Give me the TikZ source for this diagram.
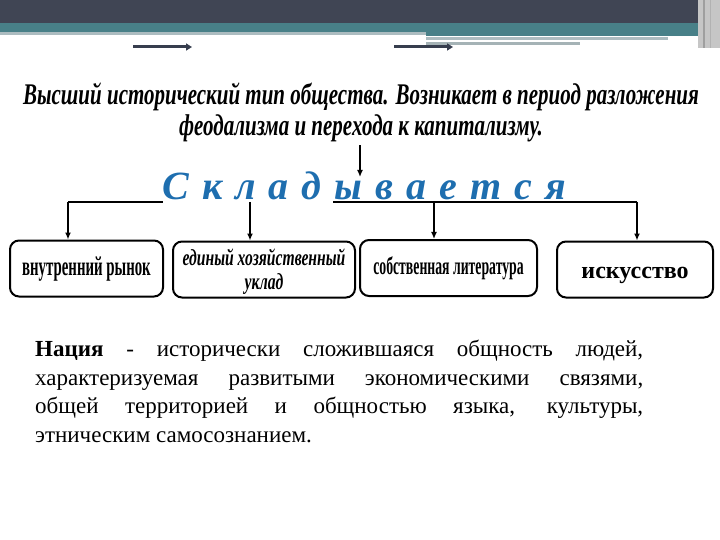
\documentclass[tikz,border=0pt]{standalone}
\usepackage{fontspec}
\setmainfont{Liberation Serif}
\newfontfamily\narrowfont[FakeStretch=0.7]{Liberation Serif}
\newfontfamily\tightfont[FakeStretch=0.55]{Liberation Serif}
\newfontfamily\squeezefont[FakeStretch=0.68]{Liberation Serif}
\usetikzlibrary{positioning,calc,arrows.meta}
\definecolor{banddark}{RGB}{64,69,84}
\definecolor{bandteal}{RGB}{72,128,136}
\definecolor{bandlight}{RGB}{172,188,192}
\definecolor{arrowdark}{RGB}{55,62,78}
\definecolor{titleblue}{RGB}{30,110,175}

\begin{document}
\begin{tikzpicture}[x=1pt,y=-1pt,
	% стили блоков и стрелок
	box/.style={
		draw=black,
		line width=2pt,
		rounded corners=9pt,
		minimum height=56pt,
		inner sep=2pt
	},
	arr/.style={line width=1.4pt, -{Latex[length=7pt,width=6pt]}},
	bus/.style={line width=1.4pt},
	deco/.style={draw=arrowdark, line width=3pt, -{Triangle[length=6pt,width=7pt]}},
	headtext/.style={align=center, font=\narrowfont\bfseries\itshape\fontsize{30}{31}\selectfont},
	boxtext/.style={font=\tightfont\bfseries\fontsize{27}{28}\selectfont},
	deftext/.style={text width=608pt, align=justify, inner sep=0pt, font=\fontsize{23}{28.5}\selectfont}
	]
	\useasboundingbox (0,0) rectangle (720,540);
	
	% Полосы заголовка слайда
	\fill[banddark] (0,0) rectangle (720,23);
	\fill[bandteal] (0,23) rectangle (700,32);
	\fill[bandteal] (426,32) rectangle (700,36);
	\fill[bandlight] (0,32) rectangle (426,35);
	\fill[bandlight] (426,37.5) rectangle (668,40);
	\fill[bandlight!85!gray] (426,42) rectangle (580,45);
	\fill[gray!45] (698,0) rectangle (720,48);
	\draw[gray!75, line width=1.5pt] (704,0) -- (704,48);
	\draw[gray!60, line width=1pt] (710,0) -- (710,48);
	
	% Две стрелки под полосами
	\coordinate (a1s) at (133,47);
	\coordinate (a1e) at (192,47);
	\coordinate (a2s) at (394,47);
	\coordinate (a2e) at (453,47);
	\draw[deco] (a1s) -- (a1e);
	\draw[deco] (a2s) -- (a2e);
	
	% Определение сверху
	\node[headtext] (title) at (361,112) {Высший исторический тип общества. Возникает в период разложения\\феодализма и перехода к капитализму.};
	
	% Складывается
	\node[text=titleblue, font=\bfseries\itshape\fontsize{40}{42}\selectfont] (skl) at (364,186) {\spaceskip=13pt С к л а д ы в а е т с я};
	\coordinate (drop) at (360,177);
	\draw[arr] (title.south -| drop) -- (drop);
	
	% Шина с отводами (часть закрыта надписью)
	\coordinate (j1) at (68,202);
	\coordinate (j2) at (250,202);
	\coordinate (j3) at (434,202);
	\coordinate (j4) at (637,202);
	\coordinate (g1) at (163,202);
	\coordinate (g2) at (333,202);
	\draw[bus] (j1) -- (g1);
	\draw[bus] (g2) -- (j4);
	
	% Четыре блока
	\node[box, boxtext, minimum width=153pt, text height=19pt, text depth=5pt] (b1) at (86.5,268.5) {внутренний рынок};
	\node[box, minimum width=182pt, align=center, text height=45pt, text depth=6pt, font=\squeezefont\bfseries\itshape\fontsize{23}{24}\selectfont] (b2) at (264,269.5) {единый хозяйственный\\уклад};
	\node[box, boxtext, minimum width=177pt, font=\tightfont\bfseries\fontsize{25}{28}\selectfont] (b3) at (448.5,268) {собственная литература};
	\node[box, minimum width=156pt, text height=18pt, text depth=0pt, font=\bfseries\fontsize{24}{26}\selectfont] (b4) at (635,269.5) {искусство};
	
	\foreach \i in {1,...,4}
		\draw[arr] (j\i) -- (j\i |- b\i.north);
	
	% Определение нации
	\node[deftext, anchor=north west] (def) at (35,340) {\textbf{Нация} - исторически сложившаяся общность людей,\linebreak характеризуемая развитыми экономическими связями,\linebreak общей территорией и общностью языка, культуры,\linebreak этническим самосознанием.};
\end{tikzpicture}
\end{document}
